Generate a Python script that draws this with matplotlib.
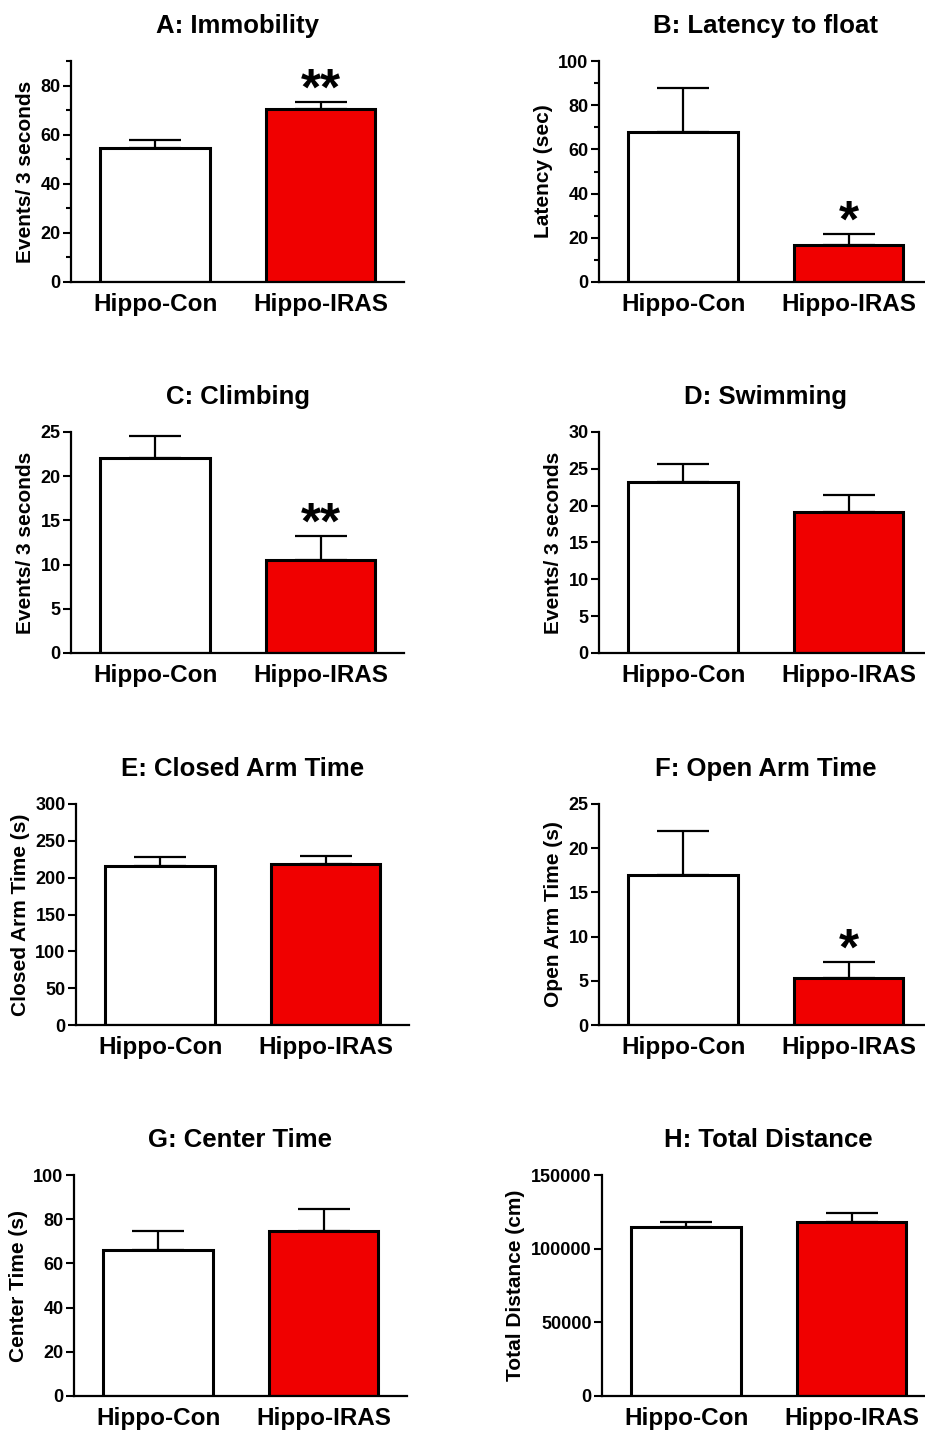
import matplotlib
matplotlib.use("Agg")
import matplotlib.pyplot as plt
from matplotlib.ticker import MultipleLocator

plt.rcParams['font.family'] = ['Liberation Sans', 'DejaVu Sans']
plt.rcParams['font.weight'] = 'bold'

# Datos
grupos = ["Hippo-Con", "Hippo-IRAS"]
titulos = ["A: Immobility", "B: Latency to float", "C: Climbing", "D: Swimming",
           "E: Closed Arm Time", "F: Open Arm Time", "G: Center Time", "H: Total Distance"]
etiquetas_y = ["Events/ 3 seconds", "Latency (sec)", "Events/ 3 seconds", "Events/ 3 seconds",
               "Closed Arm Time (s)", "Open Arm Time (s)", "Center Time (s)", "Total Distance (cm)"]

media_A = [54.6, 70.3]
error_A = [3.4, 3.0]
media_B = [67.7, 16.8]
error_B = [20.3, 4.9]
media_C = [22.1, 10.5]
error_C = [2.4, 2.7]
media_D = [23.2, 19.2]
error_D = [2.4, 2.3]
media_E = [216, 219]
error_E = [12, 11]
media_F = [17.0, 5.3]
error_F = [4.9, 1.8]
media_G = [66, 74.5]
error_G = [8.8, 10.1]
media_H = [115000, 117800]
error_H = [3200, 6100]

medias = [media_A, media_B, media_C, media_D, media_E, media_F, media_G, media_H]
errores = [error_A, error_B, error_C, error_D, error_E, error_F, error_G, error_H]
asteriscos = [["", "**"], ["", "*"], ["", "**"], ["", ""],
              ["", ""], ["", "*"], ["", ""], ["", ""]]

# Escalas de cada panel: (max, paso mayor, paso menor)
escalas = [(90, 20, 10), (100, 20, 10), (25, 5, None), (30, 5, None),
           (300, 50, None), (25, 5, None), (100, 20, None), (150000, 50000, None)]

# Posicion de los ejes en pixeles (izquierda, arriba, abajo)
W, H = 925, 1431
posiciones = [(71, 61, 282), (599, 61, 282), (71, 432, 653), (599, 432, 653),
              (76, 804, 1025), (599, 804, 1025), (74, 1175, 1396), (602, 1175, 1396)]
ancho = 333

colores = ["white", "#f00000"]

fig = plt.figure(figsize=(W / 100, H / 100), dpi=100)

for i in range(8):
    izq, arriba, abajo = posiciones[i]
    ax = fig.add_axes([izq / W, 1 - abajo / H, ancho / W, (abajo - arriba) / H])
    x = [0, 1]
    ax.errorbar(x, medias[i], yerr=[[0, 0], errores[i]], fmt='none', ecolor='black',
                elinewidth=1.6, capsize=19, capthick=1.6, zorder=1)
    ax.bar(x, medias[i], width=0.665, color=colores, edgecolor='black',
           linewidth=2.2, zorder=2)
    for j in range(2):
        if asteriscos[i][j]:
            ax.annotate(asteriscos[i][j], (x[j], medias[i][j] + errores[i][j]),
                        xytext=(0, -2), textcoords='offset points', ha='center',
                        va='baseline', fontsize=37, fontweight='bold')

    ymax, paso, menor = escalas[i]
    ax.set_ylim(0, ymax)
    ax.set_xlim(-0.51, 1.505)
    ax.yaxis.set_major_locator(MultipleLocator(paso))
    if menor:
        ax.yaxis.set_minor_locator(MultipleLocator(menor))
    ax.set_xticks(x)
    ax.set_xticklabels(grupos, fontsize=17.5, fontweight='bold')
    ax.tick_params(axis='x', length=0, pad=8)
    ax.tick_params(axis='y', which='major', length=6, width=1.5, labelsize=13, pad=1.5)
    ax.tick_params(axis='y', which='minor', length=3.5, width=1.5)
    for s in ['top', 'right']:
        ax.spines[s].set_visible(False)
    for s in ['left', 'bottom']:
        ax.spines[s].set_linewidth(1.6)
    ax.set_ylabel(etiquetas_y[i], fontsize=15, fontweight='bold', labelpad=4)
    ax.set_title(titulos[i], fontsize=18.5, fontweight='bold', pad=20)

plt.savefig("out.png", dpi=100)
